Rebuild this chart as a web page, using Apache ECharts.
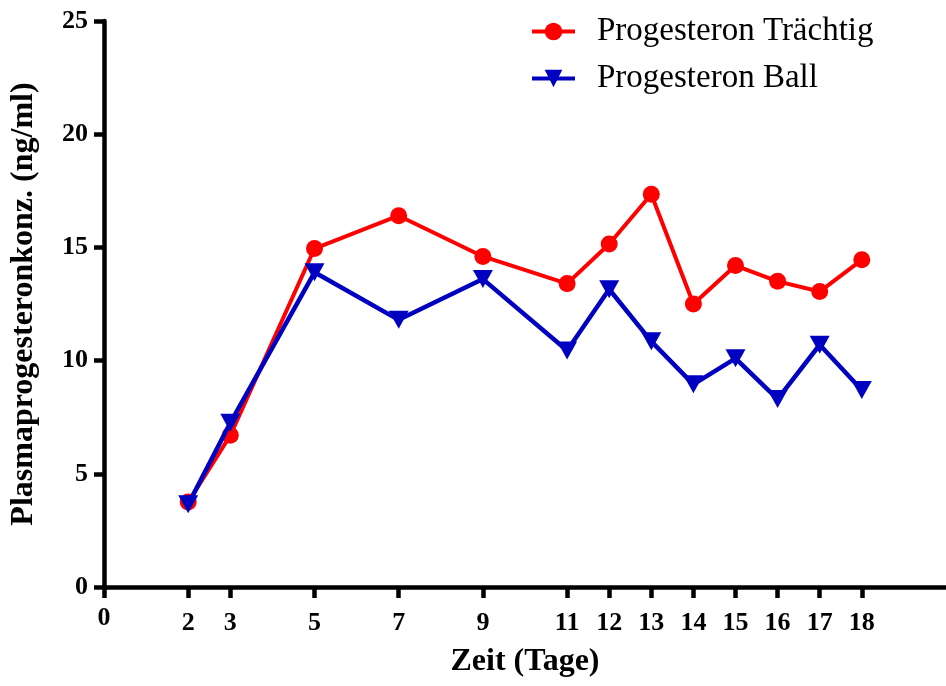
<!DOCTYPE html>
<html>
<head>
<meta charset="utf-8">
<script src="https://cdn.jsdelivr.net/npm/echarts@6/dist/echarts.min.js"></script>
<style>
  html, body { margin: 0; padding: 0; background: #fff; }
  #chart { width: 946px; height: 686px; }
</style>
</head>
<body>
<div id="chart"></div>
<script>
// Sampling days and plasma progesterone concentrations (ng/ml)
var days = [2, 3, 5, 7, 9, 11, 12, 13, 14, 15, 16, 17, 18];
var traechtig = [3.75, 6.7, 14.95, 16.4, 14.6, 13.4, 15.15, 17.35, 12.5, 14.2, 13.5, 13.05, 14.45];
var ball = [3.65, 7.25, 13.9, 11.8, 13.6, 10.45, 13.15, 10.85, 8.95, 10.1, 8.3, 10.7, 8.7];

// Labelled positions on the time axis
var xTicks = [0, 2, 3, 5, 7, 9, 11, 12, 13, 14, 15, 16, 17, 18];
var yTicks = [0, 5, 10, 15, 20, 25];

var seriesNames = ['Progesteron Trächtig', 'Progesteron Ball'];

var FONT = '"Liberation Serif", "Times New Roman", serif';

function pairs(xs, ys) {
  return xs.map(function (x, i) { return [x, ys[i]]; });
}

var chart = echarts.init(document.getElementById('chart'), null, { renderer: 'canvas' });

chart.setOption({
  backgroundColor: '#ffffff',
  animation: false,
  grid: { left: 103, top: 21, width: 847.5, height: 566, containLabel: false },
  legend: {
    left: 525,
    top: 10,
    orient: 'vertical',
    itemWidth: 43,
    itemHeight: 22,
    itemGap: 14,
    data: seriesNames,
    lineStyle: { width: 4 },
    textStyle: {
      fontFamily: FONT,
      fontSize: 33,
      lineHeight: 33,
      color: '#000',
      padding: [0, 0, 0, 17]
    }
  },
  xAxis: {
    type: 'value',
    min: 0,
    max: 20,
    name: 'Zeit (Tage)',
    nameLocation: 'middle',
    nameGap: 59,
    nameTextStyle: { fontFamily: FONT, fontSize: 32, fontWeight: 'bold', color: '#000' },
    axisLine: { show: true, onZero: false, lineStyle: { color: '#000', width: 4.5 } },
    axisTick: { show: true, length: 11, customValues: xTicks, lineStyle: { color: '#000', width: 4.5 } },
    axisLabel: {
      customValues: xTicks,
      margin: 18,
      fontFamily: FONT,
      fontSize: 26,
      fontWeight: 'bold',
      color: '#000',
      formatter: function (v) { return v === 0 ? '{z|0}' : '{n|' + v + '}'; },
      rich: {
        z: { fontFamily: FONT, fontSize: 26, fontWeight: 'bold', color: '#000', padding: [0, 0, 0, 0] },
        n: { fontFamily: FONT, fontSize: 26, fontWeight: 'bold', color: '#000', padding: [5, 0, 0, 0] }
      }
    },
    splitLine: { show: false }
  },
  yAxis: {
    type: 'value',
    min: 0,
    max: 25,
    interval: 5,
    name: 'Plasmaprogesteronkonz. (ng/ml)',
    nameLocation: 'middle',
    nameGap: 64,
    nameTextStyle: { fontFamily: FONT, fontSize: 32, fontWeight: 'bold', color: '#000' },
    axisLine: { show: true, onZero: false, lineStyle: { color: '#000', width: 4.5 } },
    axisTick: { show: true, length: 10, lineStyle: { color: '#000', width: 4.5 } },
    axisLabel: {
      customValues: yTicks,
      margin: 16,
      fontFamily: FONT,
      fontSize: 26,
      fontWeight: 'bold',
      color: '#000'
    },
    splitLine: { show: false }
  },
  series: [
    {
      name: seriesNames[0],
      type: 'line',
      data: pairs(days, traechtig),
      symbol: 'circle',
      symbolSize: 17,
      color: '#ff0000',
      lineStyle: { color: '#ff0000', width: 4 },
      itemStyle: { color: '#ff0000' },
      z: 2
    },
    {
      name: seriesNames[1],
      type: 'line',
      data: pairs(days, ball),
      symbol: 'triangle',
      symbolRotate: 180,
      symbolSize: [20, 18],
      color: '#0000c0',
      lineStyle: { color: '#0000c0', width: 4.5 },
      itemStyle: { color: '#0000c0' },
      z: 3
    }
  ]
});
</script>
</body>
</html>
